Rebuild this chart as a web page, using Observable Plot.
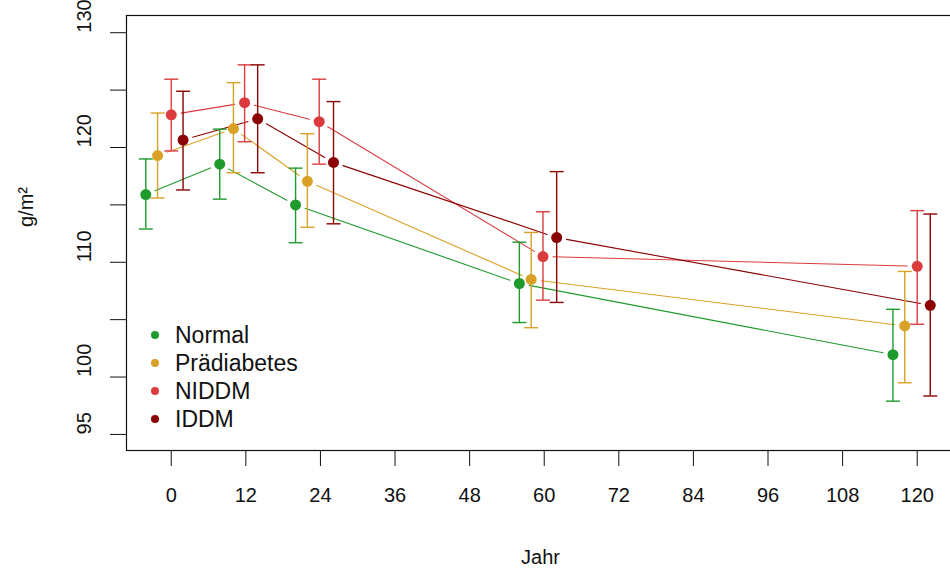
<!DOCTYPE html>
<html>
<head>
<meta charset="utf-8">
<script src="https://cdn.jsdelivr.net/npm/d3@7"></script>
<script src="https://cdn.jsdelivr.net/npm/@observablehq/plot@0.6"></script>
<style>
  html, body { margin: 0; padding: 0; background: #fff; overflow: hidden; width: 950px; height: 572px; }
  #wrap { position: relative; width: 958px; height: 572px; }
  #legend { position: absolute; left: 149px; top: 321px; font-family: "Liberation Sans", Arial, sans-serif; font-size: 23px; color: #111; }
  #legend .row { height: 28px; line-height: 28px; display: flex; align-items: center; white-space: nowrap; }
  #legend .dot { width: 8px; height: 8px; border-radius: 50%; margin-right: 16px; margin-left: 2px; }
</style>
</head>
<body>
<div id="wrap"><div id="chart"></div><div id="legend"></div></div>
<script>
// ---- data ----
const seriesNames = ["Normal", "Prädiabetes", "NIDDM", "IDDM"];
const seriesColors = ["#1f9a2c", "#d9a125", "#dc3b3e", "#8b0000"];

const normalX  = [-4.1, 7.8, 20.0, 56.0, 116.1];
const normalY  = [115.9, 118.55, 115.0, 108.15, 101.95];
const normalLo = [112.9, 115.5, 111.7, 104.75, 97.9];
const normalHi = [119.0, 121.6, 118.2, 111.75, 105.9];

const praedX  = [-2.2, 10.0, 21.9, 57.9, 118.0];
const praedY  = [119.3, 121.65, 117.05, 108.5, 104.45];
const praedLo = [115.6, 117.8, 113.05, 104.3, 99.5];
const praedHi = [123.0, 125.65, 121.2, 112.6, 109.2];

const niddmX  = [0.0, 11.8, 23.8, 59.8, 120.0];
const niddmY  = [122.85, 123.9, 122.25, 110.5, 109.65];
const niddmLo = [119.7, 120.5, 118.55, 106.7, 104.6];
const niddmHi = [125.95, 127.2, 125.95, 114.4, 114.5];

const iddmX  = [1.9, 13.9, 26.1, 62.0, 122.1];
const iddmY  = [120.65, 122.5, 118.7, 112.15, 106.25];
const iddmLo = [116.3, 117.8, 113.35, 106.5, 98.35];
const iddmHi = [124.9, 127.2, 124.0, 117.9, 114.2];

const xTicks = [0, 12, 24, 36, 48, 60, 72, 84, 96, 108, 120];
const yTicks = [95, 100, 105, 110, 115, 120, 125, 130];
const yTickLabels = [95, 100, 110, 120, 130];
const xTitle = "Jahr";
const yTitle = "g/m²";

// ---- build tables ----
const seriesData = [
  [normalX, normalY, normalLo, normalHi],
  [praedX, praedY, praedLo, praedHi],
  [niddmX, niddmY, niddmLo, niddmHi],
  [iddmX, iddmY, iddmLo, iddmHi]
];
const points = [];
const segments = [];
seriesData.forEach(([xs, ys, lo, hi], s) => {
  xs.forEach((x, i) => {
    points.push({series: seriesNames[s], x, y: ys[i], lo: lo[i], hi: hi[i]});
    if (i > 0) segments.push({series: seriesNames[s], x1: xs[i - 1], y1: ys[i - 1], x2: x, y2: ys[i]});
  });
});

const capSymbol = {
  draw(ctx, size) {
    const w = Math.sqrt(size / Math.PI);
    ctx.moveTo(-w, 0);
    ctx.lineTo(w, 0);
  }
};

const font = "Liberation Sans, Arial, sans-serif";

const chart = Plot.plot({
  width: 958,
  height: 572,
  marginLeft: 126,
  marginRight: 4,
  marginTop: 15,
  marginBottom: 122,
  style: {fontFamily: font, fontSize: "20px", background: "transparent", color: "#111"},
  x: {domain: [-7.2, 126], label: null},
  y: {domain: [93.6, 131.5], label: null},
  color: {domain: seriesNames, range: seriesColors},
  marks: [
    Plot.frame({stroke: "#111", strokeWidth: 1.2}),
    Plot.axisX({ticks: xTicks, tickSize: 16, tickPadding: 21, fontSize: 20, label: null, stroke: "#111"}),
    Plot.axisY({ticks: yTicks, tickSize: 16, tickFormat: () => "", label: null, stroke: "#111"}),
    Plot.text(yTickLabels, {y: d => d, text: d => String(d), frameAnchor: "left", rotate: -90, dx: -42, fontSize: 20, fill: "#111", lineAnchor: "middle"}),
    Plot.text([xTitle], {frameAnchor: "bottom", dy: 107, fontSize: 20, fill: "#111", lineAnchor: "middle"}),
    Plot.text([yTitle], {frameAnchor: "left", rotate: -90, dx: -100, dy: -6, fontSize: 20, fill: "#111", lineAnchor: "middle"}),
    Plot.arrow(segments, {x1: "x1", y1: "y1", x2: "x2", y2: "y2", stroke: "series", strokeWidth: 1.1, headLength: 0, insetStart: 10, insetEnd: 10}),
    Plot.ruleX(points, {x: "x", y1: "lo", y2: "hi", stroke: "series", strokeWidth: 1.4}),
    Plot.dot(points, {x: "x", y: "lo", symbol: capSymbol, r: 7, stroke: "series", strokeWidth: 1.4, fill: "none"}),
    Plot.dot(points, {x: "x", y: "hi", symbol: capSymbol, r: 7, stroke: "series", strokeWidth: 1.4, fill: "none"}),
    Plot.dot(points, {x: "x", y: "y", r: 5.5, fill: "series", stroke: "none"})
  ]
});
document.getElementById("chart").appendChild(chart);

const legend = document.getElementById("legend");
seriesNames.forEach((name, i) => {
  const row = document.createElement("div");
  row.className = "row";
  const dot = document.createElement("span");
  dot.className = "dot";
  dot.style.background = seriesColors[i];
  const label = document.createElement("span");
  label.textContent = name;
  row.appendChild(dot);
  row.appendChild(label);
  legend.appendChild(row);
});
</script>
</body>
</html>
